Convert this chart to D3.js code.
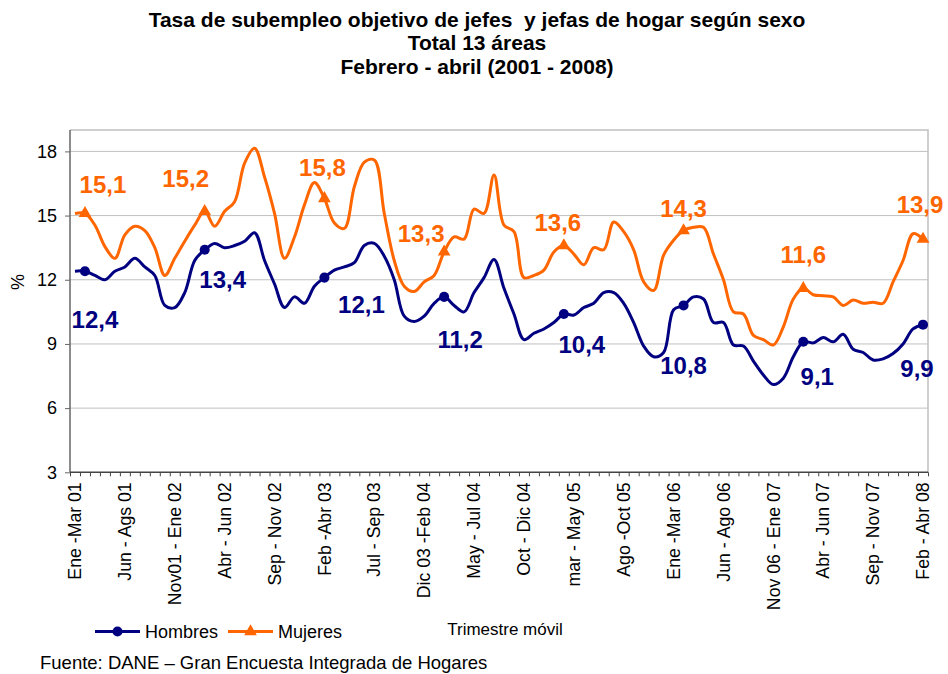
<!DOCTYPE html>
<html>
<head>
<meta charset="utf-8">
<script src="https://cdn.jsdelivr.net/npm/d3@7"></script>
<style>
  body { margin: 0; background: #fff; }
  svg { display: block; font-family: "Liberation Sans", Arial, sans-serif; }
</style>
</head>
<body>
<svg id="chart" width="948" height="674"></svg>
<script>
// ---------- DATA ----------
const titleLines = [
  "Tasa de subempleo objetivo de jefes  y jefas de hogar según sexo",
  "Total 13 áreas",
  "Febrero - abril (2001 - 2008)"
];
const tickLabels = [
  "Ene -Mar 01", "Jun - Ags 01", "Nov01 - Ene 02", "Abr - Jun 02", "Sep - Nov 02",
  "Feb -Abr 03", "Jul - Sep 03", "Dic 03 -Feb 04", "May - Jul 04", "Oct - Dic 04",
  "mar - May 05", "Ago -Oct 05", "Ene -Mar 06", "Jun - Ago 06", "Nov 06 - Ene 07",
  "Abr - Jun 07", "Sep - Nov 07", "Feb - Abr 08"
];
const yTicks = [3, 6, 9, 12, 15, 18];
// 86 moving trimesters (Ene-Mar 01 ... Feb-Abr 08)
const hombres = [
  12.4, 12.4, 12.2, 12.0, 12.4, 12.6, 13.0, 12.6, 12.2, 10.8,
  10.7, 11.4, 12.9, 13.4, 13.7, 13.5, 13.6, 13.8, 14.2, 12.9,
  11.8, 10.7, 11.2, 10.9, 11.7, 12.1, 12.45, 12.6, 12.8, 13.6,
  13.7, 13.1, 12.0, 10.3, 10.05, 10.3, 10.9, 11.2, 10.8, 10.5,
  11.4, 12.1, 12.95, 11.6, 10.4, 9.2, 9.5, 9.7, 10.0, 10.4,
  10.35, 10.7, 10.9, 11.4, 11.4, 10.9, 10.0, 8.9, 8.4, 8.6,
  10.6, 10.8, 11.2, 11.1, 10.0, 10.0, 8.95, 8.9, 8.2, 7.55,
  7.1, 7.4, 8.4, 9.1, 9.05, 9.3, 9.1, 9.45, 8.75, 8.6,
  8.25, 8.3, 8.55, 9.0, 9.7, 9.9
];
const mujeres = [
  15.1, 15.1, 14.55, 13.55, 13.0, 14.1, 14.5, 14.3, 13.5, 12.2,
  13.0, 13.8, 14.55, 15.2, 14.5, 15.2, 15.65, 17.45, 18.15, 16.8,
  15.1, 13.0, 14.0, 15.5, 16.55, 15.8, 14.65, 14.4, 16.35, 17.5,
  17.6, 15.1, 12.9, 11.7, 11.45, 11.9, 12.2, 13.3, 14.0, 13.9,
  15.3, 15.1, 16.9, 14.55, 14.25, 12.1, 12.2, 12.45, 13.3, 13.6,
  13.2, 12.7, 13.5, 13.4, 14.7, 14.25, 13.4, 11.9, 11.5, 13.15,
  13.85, 14.3, 14.45, 14.45, 13.2, 12.0, 10.5, 10.4, 9.4, 9.2,
  8.95, 9.8, 11.1, 11.6, 11.3, 11.25, 11.2, 10.8, 11.05, 10.9,
  10.95, 10.9, 11.9, 12.9, 14.15, 13.9
];
const markerIdx = [1, 13, 25, 37, 49, 61, 73, 85];
const hombresLabels = ["12,4", "13,4", "12,1", "11,2", "10,4", "10,8", "9,1", "9,9"];
const mujeresLabels = ["15,1", "15,2", "15,8", "13,3", "13,6", "14,3", "11,6", "13,9"];

// ---------- LAYOUT (label placement offsets from marker) ----------
const hDx = [10, 18, 37, 16, 18, 0, 14, -6];
const hDy = [57, 38, 35, 51, 39, 69, 43, 52];
const mDx = [18, -19, -2, -23, -6, 0, 0, -3];
const mDy = [-20, -24, -22, -10, -15, -14, -25, -26];

const C_BLUE = "#000080", C_ORANGE = "#FF6600";
const svg = d3.select("#chart");
const L = 70, R = 928, T = 130, B = 472.3;

const x = d3.scaleBand().domain(d3.range(hombres.length)).range([L, R]).padding(0);
const xc = i => x(i) + x.bandwidth() / 2;
const y = d3.scaleLinear().domain([3, 19]).range([B, T]);

// Title
svg.append("g").selectAll("text").data(titleLines).join("text")
  .attr("x", 477).attr("y", (d, i) => [27, 50, 74][i])
  .attr("text-anchor", "middle").attr("font-weight", "bold").attr("font-size", 21)
  .style("white-space", "pre")
  .text(d => d);

// grid
svg.append("g").selectAll("line").data(yTicks.filter(v => v > 3)).join("line")
  .attr("x1", L).attr("x2", R).attr("y1", d => y(d)).attr("y2", d => y(d))
  .attr("stroke", "#c0c0c0").attr("stroke-width", 1);
// top & right border
svg.append("path").attr("d", `M${L},${T}H${R}V${B}`).attr("fill", "none")
  .attr("stroke", "#c0c0c0").attr("stroke-width", 1.5);

// Y axis
const yAxis = svg.append("g").attr("transform", `translate(${L},0)`)
  .call(d3.axisLeft(y).tickValues(yTicks).tickSize(5).tickPadding(8).tickFormat(d3.format("d")));
yAxis.select(".domain").attr("stroke", "#666").attr("stroke-width", 1.5).attr("d", `M0,${T}V${B}`);
yAxis.selectAll(".tick line").attr("stroke", "#666");
yAxis.selectAll("text").attr("font-size", 18).attr("fill", "#000")
  .attr("font-family", "Liberation Sans, Arial, sans-serif");

// X axis tick marks
const xb = d3.scaleLinear().domain([0, hombres.length]).range([L, R]);
const xTickAxis = svg.append("g").attr("transform", `translate(0,${B})`)
  .call(d3.axisBottom(xb).tickValues(d3.range(hombres.length + 1)).tickSize(4).tickFormat(""));
xTickAxis.select(".domain").attr("stroke", "#444").attr("stroke-width", 1.5).attr("d", `M${L},0H${R}`);
xTickAxis.selectAll(".tick line").attr("stroke", "#444");

// X labels
const labelIdx = tickLabels.map((d, k) => k * 5);
const xLab = svg.append("g").attr("transform", `translate(0,${B})`)
  .call(d3.axisBottom(x).tickValues(labelIdx).tickSize(0).tickFormat((d) => tickLabels[d / 5]));
xLab.select(".domain").remove();
xLab.selectAll("text")
  .attr("font-size", 17.7).attr("fill", "#000")
  .attr("font-family", "Liberation Sans, Arial, sans-serif")
  .attr("text-anchor", "end")
  .attr("transform", "rotate(-90)")
  .attr("x", -10).attr("y", 0).attr("dy", "0.35em");

// axis titles
svg.append("text").attr("transform", "translate(24,282) rotate(-90)")
  .attr("text-anchor", "middle").attr("font-size", 18).text("%");
svg.append("text").attr("x", 505).attr("y", 635).attr("text-anchor", "middle")
  .attr("font-size", 17).text("Trimestre móvil");

// lines
const line = d3.line().x((d, i) => xc(i)).y(d => y(d)).curve(d3.curveCatmullRom.alpha(0.5));
svg.append("path").datum(mujeres).attr("d", line).attr("fill", "none")
  .attr("stroke", C_ORANGE).attr("stroke-width", 3).attr("stroke-linejoin", "round");
svg.append("path").datum(hombres).attr("d", line).attr("fill", "none")
  .attr("stroke", C_BLUE).attr("stroke-width", 3).attr("stroke-linejoin", "round");

const tri = d3.symbol().type(d3.symbolTriangle).size(70);
const circ = d3.symbol().type(d3.symbolCircle).size(80);

svg.append("g").selectAll("path").data(markerIdx).join("path")
  .attr("d", tri).attr("fill", C_ORANGE)
  .attr("transform", i => `translate(${xc(i)},${y(mujeres[i])})`);
svg.append("g").selectAll("path").data(markerIdx).join("path")
  .attr("d", circ).attr("fill", C_BLUE)
  .attr("transform", i => `translate(${xc(i)},${y(hombres[i])})`);

// data labels
svg.append("g").selectAll("text").data(markerIdx).join("text")
  .attr("x", (i, k) => xc(i) + mDx[k]).attr("y", (i, k) => y(mujeres[i]) + mDy[k])
  .attr("text-anchor", "middle").attr("font-weight", "bold").attr("font-size", 24)
  .attr("fill", C_ORANGE).text((i, k) => mujeresLabels[k]);
svg.append("g").selectAll("text").data(markerIdx).join("text")
  .attr("x", (i, k) => xc(i) + hDx[k]).attr("y", (i, k) => y(hombres[i]) + hDy[k])
  .attr("text-anchor", "middle").attr("font-weight", "bold").attr("font-size", 24)
  .attr("fill", C_BLUE).text((i, k) => hombresLabels[k]);

// legend
const lg = svg.append("g");
const legendItems = [
  { name: "Hombres", color: C_BLUE, sym: circ, x0: 95 },
  { name: "Mujeres", color: C_ORANGE, sym: tri, x0: 228 }
];
legendItems.forEach(it => {
  lg.append("line").attr("x1", it.x0).attr("x2", it.x0 + 45).attr("y1", 631.5).attr("y2", 631.5)
    .attr("stroke", it.color).attr("stroke-width", 3);
  lg.append("path").attr("d", it.sym).attr("fill", it.color)
    .attr("transform", `translate(${it.x0 + 22.5},631.5)`);
  lg.append("text").attr("x", it.x0 + 50).attr("y", 638).attr("font-size", 18).text(it.name);
});

// source
svg.append("text").attr("x", 40).attr("y", 669).attr("font-size", 18.5)
  .text("Fuente: DANE – Gran Encuesta Integrada de Hogares");
</script>
</body>
</html>
